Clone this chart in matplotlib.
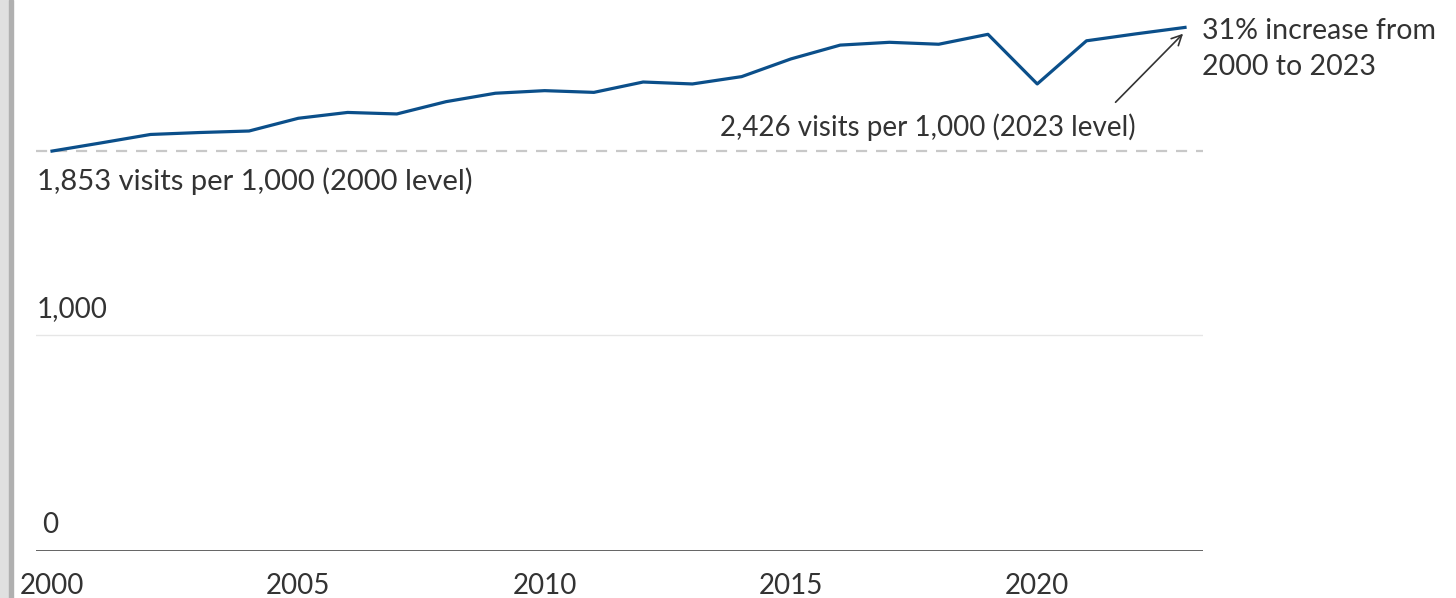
import numpy as np
import matplotlib
matplotlib.use('Agg')
import matplotlib.pyplot as plt
from matplotlib.patches import Rectangle
from matplotlib.transforms import blended_transform_factory

plt.rcParams['font.family'] = ['Lato', 'DejaVu Sans']

# visits per 1,000 people, by year
years = list(range(2000, 2024))
visits = [1853, 1891, 1930, 1939, 1946, 2005, 2032, 2025, 2082, 2121,
          2133, 2125, 2173, 2164, 2198, 2280, 2344, 2357, 2348, 2394,
          2164, 2364, 2396, 2426]
y_ticks = [0, 1000]
y_tick_labels = ['0', '1,000']
x_ticks = [2000, 2005, 2010, 2015, 2020]

line_color = '#0b4f8a'
text_color = '#333333'
fs = 20

W, H = 1456, 598
fig = plt.figure(figsize=(W / 100, H / 100), dpi=100)
ax = fig.add_axes([36 / W, (H - 551) / H, (1203 - 36) / W, 551 / H])

# gray strip on the left edge
fig.patches.append(Rectangle((0, 0), 9 / W, 1, transform=fig.transFigure,
                             color='#e0e0e0', zorder=0))
fig.patches.append(Rectangle((9 / W, 0), 4 / W, 1, transform=fig.transFigure,
                             color='#b0b0b0', zorder=0))

ax.plot(years, visits, color=line_color, lw=2.3, solid_joinstyle='round', zorder=3)

# reference line at the 2000 level
ax.axhline(visits[0], color='#c8c8c8', lw=1.6, ls=(0, (5, 4)), zorder=1)
ax.axhline(1000, color='#e6e6e6', lw=1, zorder=1)
ax.axhline(0, color='#555555', lw=2, zorder=2)

ax.set_xlim(1999.675, 2023.365)
ax.set_ylim(0, 2553)
for s in ax.spines.values():
    s.set_visible(False)
ax.set_yticks([])
ax.set_xticks(x_ticks)
ax.set_xticklabels([str(x) for x in x_ticks])
ax.tick_params(axis='x', length=0, pad=16, labelsize=fs, labelcolor=text_color)

tr = blended_transform_factory(ax.transAxes, ax.transData)
for v, lab in zip(y_ticks, y_tick_labels):
    ax.text(0.001 if v else 0.005, v + 60, lab, transform=tr, ha='left', va='bottom',
            fontsize=fs, color=text_color)

ax.text(0.001, visits[0] - 75, '1,853 visits per 1,000 (2000 level)', transform=tr,
        ha='left', va='top', fontsize=21, color=text_color)
ax.text(2023 - 1.0, visits[0] + 45, '2,426 visits per 1,000 (2023 level)',
        ha='right', va='bottom', fontsize=fs, color=text_color)

ax.annotate('', xy=(years[-1], visits[-1] - 20), xytext=(2021.55, 2070),
            arrowprops=dict(arrowstyle='->', color=text_color, lw=1.2,
                            mutation_scale=18), annotation_clip=False)
ax.text(2023.35, 2325, '31% increase from\n2000 to 2023', ha='left',
        va='center', fontsize=20.5, color=text_color, linespacing=1.5, clip_on=False)

fig.savefig('out.png', dpi=100, facecolor='white')
